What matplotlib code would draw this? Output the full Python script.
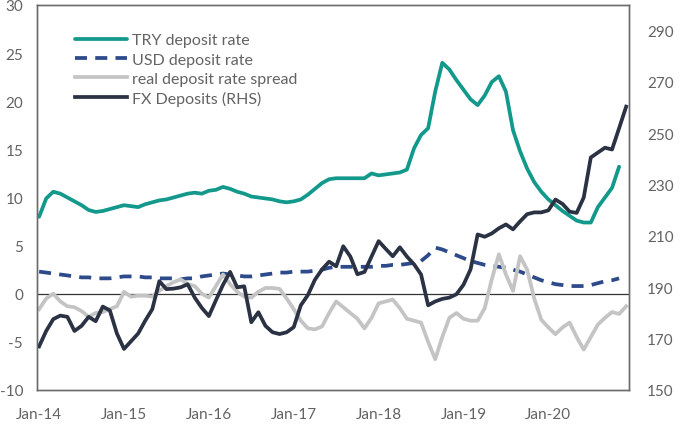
import numpy as np
import matplotlib
matplotlib.use("Agg")
import matplotlib.pyplot as plt

nan = np.nan
tick_labels = ["Jan-14", "Jan-15", "Jan-16", "Jan-17", "Jan-18", "Jan-19", "Jan-20"]

try_rate = [8.0, 9.9, 10.6, 10.4, 10.0, 9.6, 9.2, 8.7, 8.5, 8.6, 8.8, 9.0,
            9.2, 9.1, 9.0, 9.3, 9.5, 9.7, 9.8, 10.0, 10.2, 10.4, 10.5, 10.4,
            10.7, 10.8, 11.1, 10.9, 10.6, 10.4, 10.1, 10.0, 9.9, 9.8, 9.6, 9.5,
            9.6, 9.8, 10.3, 10.9, 11.5, 11.9, 12.0, 12.0, 12.0, 12.0, 12.0, 12.5,
            12.3, 12.4, 12.5, 12.6, 12.9, 15.1, 16.5, 17.2, 21.0, 24.0, 23.3, 22.2,
            21.2, 20.2, 19.6, 20.6, 22.0, 22.6, 21.0, 17.0, 14.8, 13.0, 11.6, 10.6,
            9.8, 9.2, 8.6, 8.1, 7.6, 7.4, 7.4, 9.0, 10.0, 11.0, 13.2, nan]

usd_rate = [2.3, 2.2, 2.1, 2.0, 1.9, 1.8, 1.7, 1.7, 1.6, 1.6, 1.6, 1.7,
            1.8, 1.8, 1.8, 1.7, 1.7, 1.6, 1.6, 1.6, 1.5, 1.6, 1.6, 1.8,
            1.9, 2.0, 2.1, 2.0, 1.9, 1.8, 1.8, 1.9, 2.0, 2.1, 2.2, 2.2,
            2.3, 2.3, 2.3, 2.4, 2.5, 2.7, 2.8, 2.8, 2.8, 2.8, 2.8, 2.8,
            2.9, 2.9, 3.0, 3.0, 3.1, 3.2, 3.4, 4.0, 4.8, 4.6, 4.3, 4.0,
            3.7, 3.4, 3.2, 3.0, 2.9, 2.8, 2.7, 2.5, 2.3, 2.0, 1.7, 1.4,
            1.2, 1.0, 0.9, 0.8, 0.8, 0.8, 0.9, 1.1, 1.3, 1.4, 1.6, nan]

real_spread = [-1.6, -0.5, 0.0, -0.8, -1.3, -1.4, -1.8, -2.4, -2.0, -1.9, -1.6, -1.3,
               0.2, -0.3, -0.2, -0.2, -0.3, 0.3, 0.8, 1.2, 1.5, 1.0, 0.8, 0.0,
               -0.4, 0.8, 2.0, 1.0, 0.2, -0.3, -0.4, 0.2, 0.6, 0.6, 0.5, -0.5,
               -1.6, -2.8, -3.6, -3.7, -3.4, -2.0, -0.8, -1.4, -2.0, -2.6, -3.6, -2.5,
               -1.0, -0.8, -0.6, -1.5, -2.6, -2.8, -3.0, -5.0, -6.8, -4.5, -2.5, -2.0,
               -2.6, -2.8, -2.8, -1.5, 1.5, 4.1, 2.0, 0.3, 3.9, 2.5, -0.5, -2.7,
               -3.5, -4.2, -3.5, -3.0, -4.5, -5.8, -4.5, -3.2, -2.5, -1.9, -2.1, -1.3]

fx_deposits = [167, 173, 177.6, 179, 178.5, 173, 175, 178.5, 176.8, 182.5, 181, 172,
               166, 169, 172, 177, 181.5, 192.4, 189.3, 189.5, 190, 191.2, 186, 182,
               178.8, 185, 191, 196, 190, 190.4, 176.4, 180.3, 175, 172.5, 171.8, 172.5,
               174.5, 183, 187, 193, 197, 200, 198.2, 206, 202, 195.1, 196, 202,
               208, 205, 202.1, 205.6, 202, 199, 195, 183, 184.5, 185.5, 186, 187.3,
               191, 197, 210.6, 209.7, 211, 213, 214.5, 212.6, 215.7, 218.5, 219.2, 219.2,
               220, 224.2, 222.5, 219.5, 219, 225, 240.6, 242.5, 244.4, 243.7, 252, 260.4]

months = np.arange(len(fx_deposits))

plt.rcParams['font.family'] = ['Lato', 'DejaVu Sans']
plt.rcParams['axes.unicode_minus'] = False
txt = '#636363'

fig = plt.figure(figsize=(6.81, 4.27), dpi=100)
ax = fig.add_axes([37/681, 1-391/427, 592/681, 385/427])
ax2 = ax.twinx()

l1, = ax.plot(months, try_rate, color='#13998c', lw=2.7, label='TRY deposit rate', solid_capstyle='round')
l2, = ax.plot(months, usd_rate, color='#2d4a8a', lw=2.7, ls=(0, (3.2, 2.2)), label='USD deposit rate')
l3, = ax.plot(months, real_spread, color='#c4c4c4', lw=2.7, label='real deposit rate spread')
l4, = ax2.plot(months, fx_deposits, color='#2a3243', lw=2.7, label='FX Deposits (RHS)')
ax.axhline(0, color='#333333', lw=0.9, zorder=1)

ax.set_xlim(-0.3, 83.4)
ax.set_ylim(-10, 30)
ax.set_yticks(np.arange(-10, 31, 5))
ax2.set_ylim(150, 300)
ax2.set_yticks(np.arange(150, 291, 20))
ax.set_xticks(np.arange(0, 73, 12))
ax.set_xticklabels(tick_labels)

ax.tick_params(axis='y', length=0, pad=10, labelsize=11, labelcolor=txt)
ax.tick_params(axis='x', length=0, pad=12.5, labelsize=11, labelcolor=txt)
ax2.tick_params(axis='y', length=0, pad=13, labelsize=11, labelcolor=txt)

for a in (ax, ax2):
    for s in a.spines.values():
        s.set_color('#6b6b6b')
        s.set_linewidth(1.0)

leg = ax.legend(handles=[l1, l2, l3, l4], loc='upper left', bbox_to_anchor=(0.064, 0.927),
                frameon=False, fontsize=11.5, handlelength=3.25, handletextpad=0.3,
                labelspacing=0.32, borderpad=0, borderaxespad=0)
for t in leg.get_texts():
    t.set_color(txt)

fig.savefig('out.png', dpi=100)
